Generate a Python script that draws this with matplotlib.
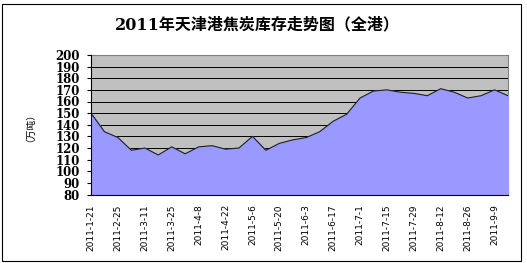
import numpy as np
import matplotlib
matplotlib.use('Agg')
import matplotlib.pyplot as plt
from matplotlib.patches import Rectangle

# weekly coke stock at Tianjin port, 2011 (10k tonnes)
dates = ['2011-1-21', '2011-2-18', '2011-2-25', '2011-3-4', '2011-3-11', '2011-3-18',
         '2011-3-25', '2011-4-1', '2011-4-8', '2011-4-15', '2011-4-22', '2011-4-29',
         '2011-5-6', '2011-5-13', '2011-5-20', '2011-5-27', '2011-6-3', '2011-6-10',
         '2011-6-17', '2011-6-24', '2011-7-1', '2011-7-8', '2011-7-15', '2011-7-22',
         '2011-7-29', '2011-8-5', '2011-8-12', '2011-8-19', '2011-8-26', '2011-9-2',
         '2011-9-9', '2011-9-16']
stock = [150, 134, 129, 118, 120, 114, 121, 115, 121, 122, 119, 120,
         130, 118, 124, 127, 129, 134, 143, 149, 163, 169, 170, 168,
         167, 165, 171, 168, 163, 165, 170, 165]
yticks = list(range(80, 201, 10))

title = '2011年天津港焦炭库存走势图（全港）'
ylab = '（万吨）'

fig = plt.figure(figsize=(5.27, 2.63), dpi=100)
ax = fig.add_axes([91/527, 1 - 194.5/263, 417/527, 139.5/263])

x = np.arange(len(stock))
ax.set_facecolor('#C0C0C0')
ax.fill_between(x, 80, stock, color='#9999FF', zorder=3)
ax.plot(x, stock, color='#202020', lw=0.8, zorder=4)

ax.set_xlim(0, len(stock) - 1)
ax.set_ylim(80, 200)
ax.set_yticks(yticks)
ax.yaxis.grid(True, color='black', lw=0.7, zorder=1)
ax.set_axisbelow(True)

ax.set_xticks(x)
ax.set_xticklabels([d if i % 2 == 0 else '' for i, d in enumerate(dates)],
                   rotation=90, fontsize=6.5,
                   family=['Liberation Sans Narrow', 'DejaVu Sans'])
ax.tick_params(axis='x', direction='in', length=3, pad=7, color='black')
ax.tick_params(axis='y', direction='out', length=3, pad=5)
for lab in ax.get_yticklabels():
    lab.set_family('DejaVu Serif')
    lab.set_fontweight('bold')
    lab.set_fontsize(8.5)

for s in ['top', 'right']:
    ax.spines[s].set_color('#808080')
    ax.spines[s].set_linewidth(0.8)
for s in ['left', 'bottom']:
    ax.spines[s].set_color('black')
    ax.spines[s].set_linewidth(0.8)
    ax.spines[s].set_zorder(5)

fig.text(257/527, 1 - 25/263, title, ha='center', va='center', fontsize=11.5,
         fontweight='bold', family=['DejaVu Serif', 'Noto Sans CJK SC'])
fig.text(25/527, 1 - 123/263, ylab, ha='center', va='center', rotation=90,
         fontsize=7, family=['Noto Sans CJK SC', 'DejaVu Sans'])

# outer chart frame
fig.patches.append(Rectangle((2/527, 1 - 261/263), 519/527, 257/263,
                             transform=fig.transFigure, fill=False,
                             edgecolor='black', lw=0.8))

fig.savefig('out.png', dpi=100)
